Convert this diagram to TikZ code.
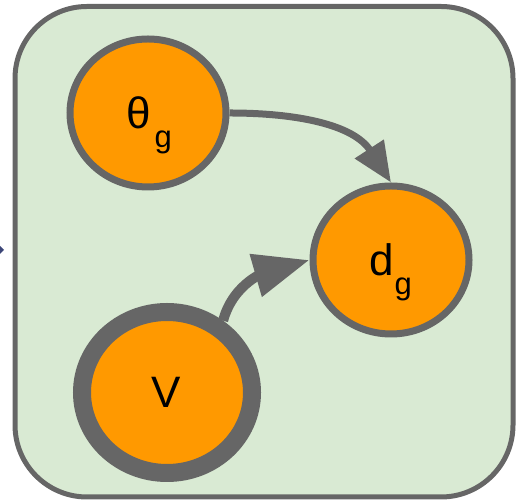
\documentclass[tikz,border=0pt]{standalone}
\usepackage{fontspec}
\setmainfont{Liberation Sans}
\usetikzlibrary{shapes.geometric,arrows.meta}
\definecolor{plategreen}{HTML}{D9EAD3}
\definecolor{edgegray}{HTML}{666666}
\definecolor{varorange}{HTML}{FF9900}
\definecolor{cutblue}{RGB}{60,70,120}
\tikzset{
  varnode/.style={ellipse, draw=edgegray, fill=varorange, line width=7pt, inner sep=0pt,
    minimum width=156pt, minimum height=148pt},
  obsnode/.style={ellipse, draw=edgegray, fill=varorange, line width=18pt, inner sep=0pt,
    minimum width=170pt, minimum height=161pt},
  bigtxt/.style={inner sep=0pt, anchor=base west, font=\fontsize{44}{44}\selectfont},
  edgearrow/.style={draw=edgegray, line width=7pt, -{Triangle[length=40pt,width=33pt]}},
  bigarrow/.style={draw=edgegray, line width=10pt, -{Triangle[length=56pt,width=42pt]}}
}
\newcommand{\subg}{\raisebox{-19pt}{\fontsize{31}{31}\selectfont g}}
\begin{document}
\begin{tikzpicture}[x=1pt,y=1pt]
\useasboundingbox (0,0) rectangle (516,502);
\draw[draw=edgegray, fill=plategreen, line width=5pt, rounded corners=72pt] (15,5) rectangle (513,495.5);
\fill[cutblue] (0,256) -- (4,252) -- (0,248) -- cycle;
\node[varnode] (th) at (148,389) {};
\node[varnode] (d) at (391,242) {};
\node[obsnode] (v) at (167,109.5) {};
\node[bigtxt] (thtxt) at (126,373) {θ\hspace{4pt}\subg};
\node[bigtxt] (dtxt) at (369,226) {d\hspace{1pt}\subg};
\node[bigtxt] (vtxt) at (151,94) {V};
\draw[edgearrow] (th.east) to[out=0, in=123] (d.north);
\draw[bigarrow] (v.52) to[out=75, in=196] (d.west);
\end{tikzpicture}
\end{document}
